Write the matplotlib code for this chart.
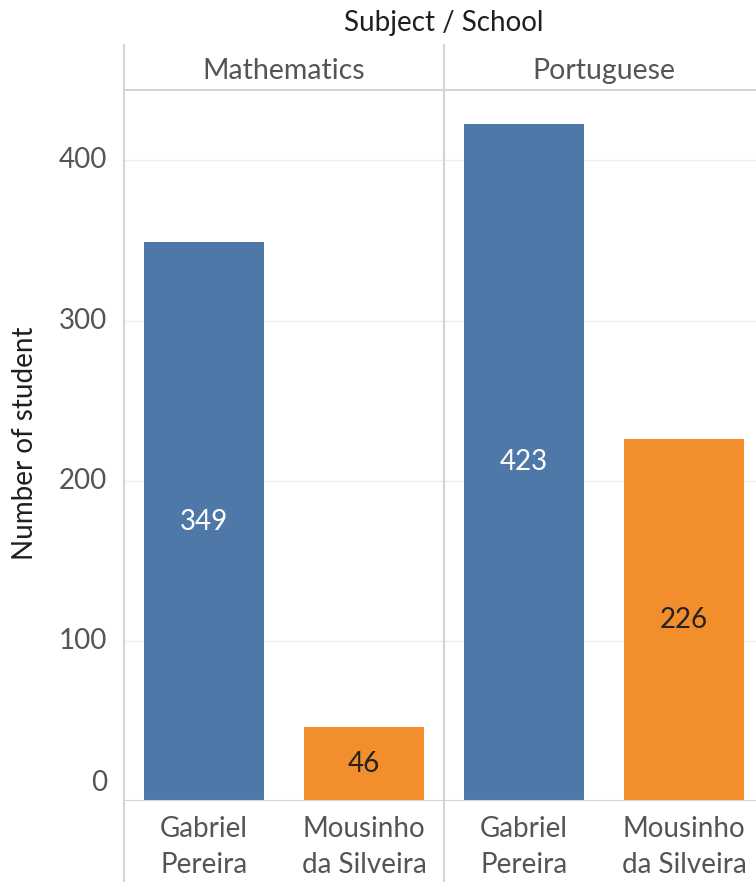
import numpy as np
import matplotlib
matplotlib.use('Agg')
import matplotlib.pyplot as plt
from matplotlib.lines import Line2D
from matplotlib.transforms import offset_copy

subjects = ['Mathematics', 'Portuguese']
schools = ['Gabriel\nPereira', 'Mousinho\nda Silveira']
math_counts = [349, 46]
port_counts = [423, 226]
yticks = [0, 100, 200, 300, 400]

blue = '#4e78a8'
orange = '#f28e2b'
frame = '#d4d4d4'
grey_txt = '#555555'
dark_txt = '#1f1f1f'
fs = 20

plt.rcParams['font.family'] = ['Lato', 'DejaVu Sans']

W, H = 756, 882
fig = plt.figure(figsize=(W / 100, H / 100), dpi=100)
# axes: x 124..764 px, y 90..801 px (from top)
ax = fig.add_axes([124 / W, (H - 801) / H, 640 / W, 711 / H])

values = math_counts + port_counts
colors = [blue, orange, blue, orange]
xpos = np.arange(len(values))
bars = ax.bar(xpos, values, width=0.75, color=colors, zorder=3)

for b, v, c in zip(bars, values, colors):
    tc = 'white' if c == blue else '#222222'
    ax.text(b.get_x() + b.get_width() / 2, v / 2, str(v), ha='center', va='center',
            color=tc, fontsize=fs, zorder=4)

ax.set_xlim(-0.5, 3.5)
ax.set_ylim(0, 444)
ax.set_yticks(yticks)
ax.set_yticklabels([])
ax.set_xticks(xpos)
ax.set_xticklabels(schools * 2, linespacing=1.45)
ax.tick_params(axis='x', length=0, pad=11, labelsize=fs, labelcolor=grey_txt)
ax.tick_params(axis='y', length=0)

# y tick labels, the bottom one lifted inside the pane like Tableau does
ytrans = ax.get_yaxis_transform()
for t in yticks:
    tr = offset_copy(ytrans, fig=fig, x=-17, y=(18 if t == 0 else 0), units='dots')
    ax.text(0, t, str(t), transform=tr, ha='right', va='center', fontsize=fs,
            color=grey_txt, clip_on=False)

ax.grid(axis='y', color='#eeeeee', linewidth=1, zorder=0)
for s in ['left', 'right', 'bottom']:
    ax.spines[s].set_visible(False)
ax.spines['top'].set_color(frame)
ax.spines['top'].set_linewidth(1.5)
ax.axhline(0, color=frame, linewidth=1.5, zorder=5)
ax.axvline(1.5, color=frame, linewidth=1.5, zorder=5)

# pane frame lines running through header and label rows
for xp in [124, 444]:
    fig.add_artist(Line2D([xp / W, xp / W], [0, (H - 45) / H], color=frame, linewidth=1.5))

# column headers
for i, s in enumerate(subjects):
    ax.text(2 * i + 0.5, 1.0, s, transform=offset_copy(ax.get_xaxis_transform(), fig=fig,
            y=19, units='dots'), ha='center', va='center', fontsize=fs + 0.5, color=grey_txt)

fig.text(444 / W, (H - 23) / H, 'Subject / School', ha='center', va='center',
         fontsize=fs, color=dark_txt)
fig.text(25 / W, (H - 443) / H, 'Number of student', rotation=90, ha='center', va='center',
         fontsize=fs, color=dark_txt)

fig.savefig('out.png', dpi=100)
